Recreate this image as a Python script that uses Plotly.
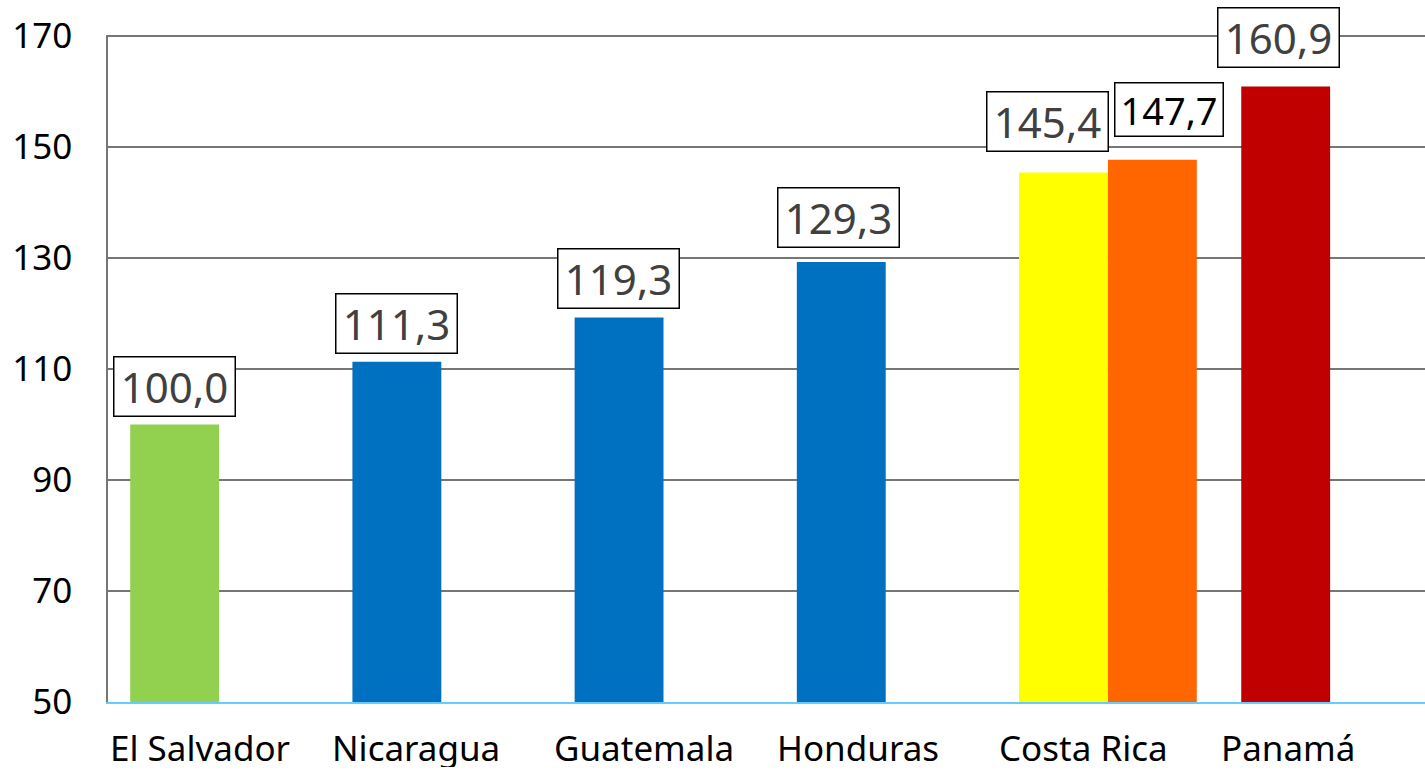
import plotly.graph_objects as go

# Countries on the category axis
countries = ["El Salvador", "Nicaragua", "Guatemala", "Honduras", "Costa Rica", "Panamá"]

# Index values (El Salvador = 100); Costa Rica carries a second bar
primary_values = [100.0, 111.3, 119.3, 129.3, 145.4, 160.9]
secondary_values = [None, None, None, None, 147.7, None]

primary_colors = ["#92D050", "#0070C0", "#0070C0", "#0070C0", "#FFFF00", "#C00000"]
secondary_color = "#FF6600"

y_ticks = [50, 70, 90, 110, 130, 150, 170]

FONT = "Noto Sans"


def fmt(v):
    return f"{v:.1f}".replace(".", ",")


fig = go.Figure()
fig.add_trace(go.Bar(
    x=countries, y=primary_values,
    marker=dict(color=primary_colors, line=dict(width=0)),
    hoverinfo="skip",
))
fig.add_trace(go.Bar(
    x=countries, y=secondary_values,
    marker=dict(color=secondary_color, line=dict(width=0)),
    hoverinfo="skip",
))

annotations = []

# Value boxes above the bars: (xshift, yshift, font size, box w, box h)
primary_label_style = [
    (0, 8, 42, 118, 56),
    (0, 8, 42, 118, 56),
    (-1, 8, 42, 118, 56),
    (-3, 14, 42, 118, 56),
    (-16, 21, 42, 118, 56),
    (-7, 19, 42, 118, 56),
]
for i, v in enumerate(primary_values):
    dx, dy, fs, w, h = primary_label_style[i]
    annotations.append(dict(
        x=i - 0.2, y=v, xref="x", yref="y",
        text=fmt(v), showarrow=False,
        xanchor="center", yanchor="bottom",
        xshift=dx, yshift=dy,
        font=dict(family=FONT, size=fs, color="#404040"),
        bgcolor="white", bordercolor="black", borderwidth=1.5, borderpad=1,
        width=w, height=h,
    ))

secondary_label_style = {4: (17, 23, 38, 105, 50)}
for i, v in enumerate(secondary_values):
    if v is None:
        continue
    dx, dy, fs, w, h = secondary_label_style[i]
    annotations.append(dict(
        x=i + 0.2, y=v, xref="x", yref="y",
        text=fmt(v), showarrow=False,
        xanchor="center", yanchor="bottom",
        xshift=dx, yshift=dy,
        font=dict(family=FONT, size=fs, color="#000000"),
        bgcolor="white", bordercolor="black", borderwidth=1.5, borderpad=1,
        width=w, height=h,
    ))

# Category names, left-aligned at the start of each category slot
for i, name in enumerate(countries):
    annotations.append(dict(
        x=i - 0.5, y=0, xref="x", yref="paper",
        text=name, showarrow=False,
        xanchor="left", yanchor="middle",
        xshift=0, yshift=-45,
        font=dict(family=FONT, size=35, color="#000000"),
        height=40,
    ))

# Top gridline at 170, drawn across the full plot width
y_top = 170.2

fig.update_layout(
    width=1425, height=770,
    margin=dict(l=108, r=0, t=35, b=68),
    paper_bgcolor="white", plot_bgcolor="white",
    barmode="group", bargap=0.2, bargroupgap=0,
    showlegend=False,
    annotations=annotations,
    xaxis=dict(
        type="category",
        range=[-0.5, 5.427],
        showticklabels=False, ticks="",
        showgrid=False, zeroline=False,
        showline=True, linecolor="#66CCFF", linewidth=2,
    ),
    yaxis=dict(
        range=[50, y_top],
        tickvals=y_ticks,
        ticktext=[str(t) for t in y_ticks],
        tickfont=dict(family=FONT, size=35, color="#000000"),
        ticks="", ticklabelstandoff=27,
        showgrid=True, gridcolor="#767676", gridwidth=1.5,
        zeroline=False,
        showline=True, linecolor="#767676", linewidth=1.5,
    ),
)

fig.write_html("out.html")
